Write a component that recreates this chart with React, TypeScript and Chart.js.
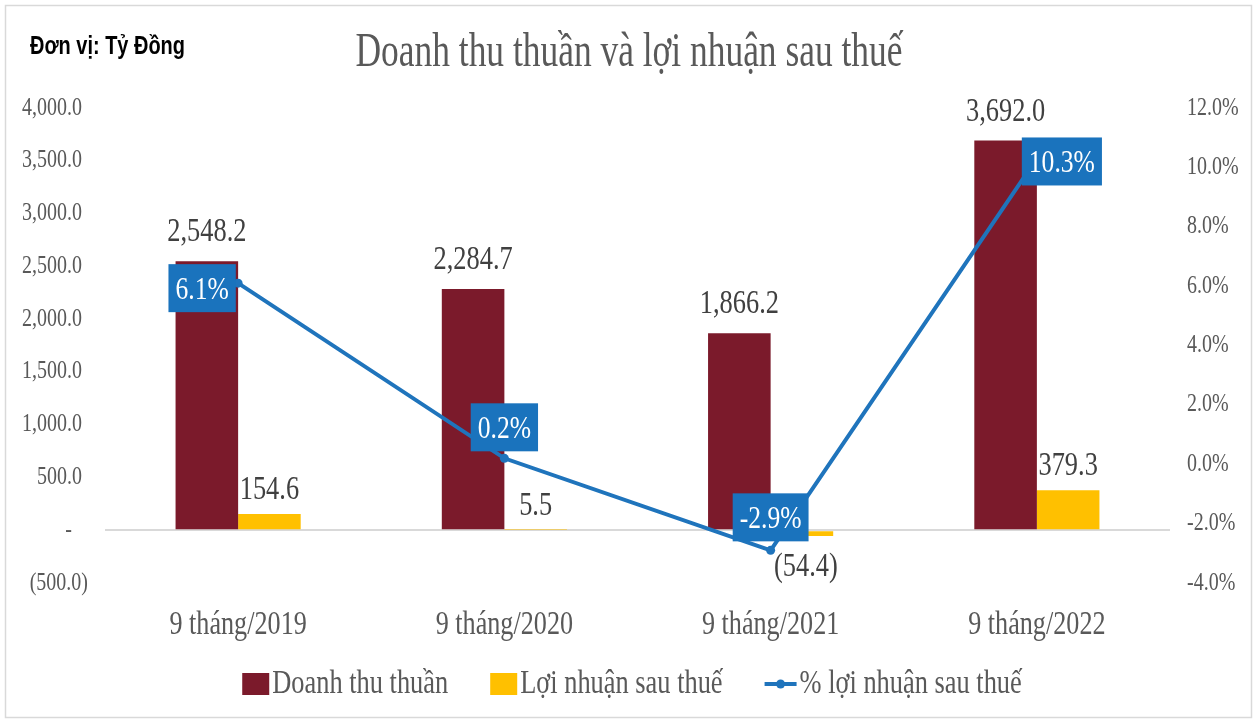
import React, { useEffect, useRef } from "react";
import { Chart, registerables } from "chart.js";
Chart.register(...registerables);

const categories = ["9 tháng/2019", "9 tháng/2020", "9 tháng/2021", "9 tháng/2022"];
const revenue = [2548.2, 2284.7, 1866.2, 3692.0];
const profit = [154.6, 5.5, -54.4, 379.3];
const margin = [6.1, 0.2, -2.9, 10.3];
const leftTicks = [-500, 0, 500, 1000, 1500, 2000, 2500, 3000, 3500, 4000];
const rightTicks = [-4, -2, 0, 2, 4, 6, 8, 10, 12];
const seriesNames = ["Doanh thu thuần", "Lợi nhuận sau thuế", "% lợi nhuận sau thuế"];
const titleText = "Doanh thu thuần và lợi nhuận sau thuế";
const unitText = "Đơn vị: Tỷ Đồng";

const RED = "#7b1a2b";
const YELLOW = "#ffc000";
const BLUE = "#1f74bc";
const GRAY = "#595959";
const DARK = "#404040";
const SERIF = '"Liberation Serif", "Times New Roman", serif';
const SX = 0.8;

// label offsets for percentage boxes (style, not data)
const pctOffsets = [
  [-36, 5],
  [0, -31],
  [0, -33],
  [25, 3],
];

function fmtNum(v: number): string {
  if (v === 0) return "-";
  const s = Math.abs(v).toLocaleString("en-US", { minimumFractionDigits: 1, maximumFractionDigits: 1 });
  return v < 0 ? `(${s})` : s;
}

function drawText(
  ctx: CanvasRenderingContext2D,
  text: string,
  x: number,
  y: number,
  font: string,
  color: string,
  align: "left" | "center" | "right",
  sx: number,
  baseline: CanvasTextBaseline = "middle",
  targetWidth?: number
) {
  ctx.save();
  ctx.font = font;
  const nat = ctx.measureText(text).width;
  const s = targetWidth ? targetWidth / nat : sx;
  const w = nat * s;
  const left = align === "center" ? x - w / 2 : align === "right" ? x - w : x;
  ctx.translate(left, y);
  ctx.scale(s, 1);
  ctx.textAlign = "left";
  ctx.textBaseline = baseline;
  ctx.fillStyle = color;
  ctx.fillText(text, 0, 0);
  ctx.restore();
  return w;
}

const textPlugin = {
  id: "textPlugin",
  afterDatasetsDraw(chart: any) {
    const ctx: CanvasRenderingContext2D = chart.ctx;
    const xs = chart.scales.x;
    const ys = chart.scales.y;
    const y1 = chart.scales.y1;

    // frame
    ctx.save();
    ctx.strokeStyle = "#d9d9d9";
    ctx.lineWidth = 1.5;
    ctx.strokeRect(5.5, 5.5, 1246, 712);
    ctx.restore();

    // title + unit
    drawText(ctx, titleText, 629, 53, `48px ${SERIF}`, GRAY, "center", SX, "middle", 547);
    drawText(ctx, unitText, 30, 47, `bold 25px "Liberation Sans", Arial, sans-serif`, "#000", "left", SX, "middle", 155);

    // left ticks
    leftTicks.forEach((v) => {
      const py = ys.getPixelForValue(v);
      const t = fmtNum(v);
      const rx = v < 0 ? 88 : v === 0 ? 72 : 82;
      drawText(ctx, t, rx, py, `25px ${SERIF}`, GRAY, "right", SX);
    });
    // right ticks
    rightTicks.forEach((v) => {
      const py = y1.getPixelForValue(v);
      drawText(ctx, v.toFixed(1) + "%", 1187, py, `25px ${SERIF}`, GRAY, "left", SX);
    });
    // x labels
    categories.forEach((c, i) => {
      drawText(ctx, c, xs.getPixelForValue(i), 625, `34px ${SERIF}`, GRAY, "center", 0.77);
    });

    // bar labels
    [0, 1].forEach((di) => {
      const meta = chart.getDatasetMeta(di);
      const data = di === 0 ? revenue : profit;
      meta.data.forEach((bar: any, i: number) => {
        const v = data[i];
        if (v >= 0) {
          const gap = di === 0 ? 20 : 15;
          drawText(ctx, fmtNum(v), bar.x, bar.y - gap, `33px ${SERIF}`, DARK, "center", SX, "alphabetic");
        } else {
          drawText(ctx, fmtNum(v), bar.x + 4, bar.y + 40, `33px ${SERIF}`, DARK, "center", SX, "alphabetic");
        }
      });
    });

    // percentage boxes
    const lmeta = chart.getDatasetMeta(2);
    lmeta.data.forEach((pt: any, i: number) => {
      const t = margin[i].toFixed(1) + "%";
      const cx = pt.x + pctOffsets[i][0];
      const cy = pt.y + pctOffsets[i][1];
      ctx.save();
      ctx.font = `32px ${SERIF}`;
      const w = ctx.measureText(t).width * SX + 14;
      ctx.restore();
      const h = 48;
      ctx.save();
      ctx.fillStyle = "#1a73bd";
      ctx.fillRect(cx - w / 2, cy - h / 2, w, h);
      ctx.restore();
      drawText(ctx, t, cx, cy + 2, `32px ${SERIF}`, "#ffffff", "center", SX);
    });

    // legend
    const font = `33px ${SERIF}`;
    ctx.save();
    ctx.font = font;
    const widths = seriesNames.map((n) => ctx.measureText(n).width * SX);
    ctx.restore();
    const markerW = [27, 27, 32];
    const gapMT = 3;
    const gapItems = 42;
    const total = widths.reduce((a, b) => a + b, 0) + markerW.reduce((a, b) => a + b, 0) + gapMT * 3 + gapItems * 2;
    let lx = 632 - total / 2;
    const ly = 684;
    seriesNames.forEach((n, i) => {
      ctx.save();
      if (i < 2) {
        ctx.fillStyle = i === 0 ? RED : YELLOW;
        ctx.fillRect(lx, ly - 11, 27, 22);
      } else {
        ctx.strokeStyle = BLUE;
        ctx.lineWidth = 4;
        ctx.beginPath();
        ctx.moveTo(lx, ly);
        ctx.lineTo(lx + markerW[2], ly);
        ctx.stroke();
        ctx.fillStyle = BLUE;
        ctx.beginPath();
        ctx.arc(lx + markerW[2] / 2, ly, 4.5, 0, Math.PI * 2);
        ctx.fill();
      }
      ctx.restore();
      lx += markerW[i] + gapMT;
      drawText(ctx, n, lx, ly, font, GRAY, "left", SX);
      lx += widths[i] + gapItems;
    });
  },
};

export default function App() {
  const ref = useRef<HTMLCanvasElement | null>(null);
  useEffect(() => {
    document.body.style.margin = "0";
    const canvas = ref.current!;
    const chart = new Chart(canvas, {
      type: "bar",
      data: {
        labels: categories,
        datasets: [
          {
            type: "bar",
            label: seriesNames[0],
            data: revenue,
            backgroundColor: RED,
            yAxisID: "y",
            categoryPercentage: 0.47,
            barPercentage: 1.0,
            order: 2,
          },
          {
            type: "bar",
            label: seriesNames[1],
            data: profit,
            backgroundColor: YELLOW,
            yAxisID: "y",
            categoryPercentage: 0.47,
            barPercentage: 1.0,
            order: 2,
          },
          {
            type: "line",
            label: seriesNames[2],
            data: margin,
            borderColor: BLUE,
            backgroundColor: BLUE,
            borderWidth: 4,
            pointRadius: 4.5,
            pointBackgroundColor: BLUE,
            pointBorderWidth: 0,
            yAxisID: "y1",
            tension: 0,
            order: 1,
          } as any,
        ],
      },
      options: {
        responsive: false,
        animation: false,
        layout: { padding: { left: 105, right: 90, top: 108, bottom: 143 } },
        plugins: {
          legend: { display: false },
          title: { display: false },
          tooltip: { enabled: false },
        },
        scales: {
          x: {
            display: true,
            ticks: { display: false },
            grid: { display: false, drawTicks: false },
            border: { display: false },
          },
          y: {
            display: true,
            min: -500,
            max: 4000,
            ticks: { display: false, stepSize: 500 },
            grid: {
              drawTicks: false,
              color: (c: any) => (c.tick && c.tick.value === 0 ? "#d9d9d9" : "rgba(0,0,0,0)"),
              lineWidth: 2,
            },
            border: { display: false },
          },
          y1: {
            display: true,
            position: "right",
            min: -4,
            max: 12,
            ticks: { display: false, stepSize: 2 },
            grid: { display: false, drawTicks: false },
            border: { display: false },
          },
        },
      },
      plugins: [textPlugin],
    });
    return () => chart.destroy();
  }, []);
  return (
    <div style={{ width: 1260, height: 726, background: "#fff" }}>
      <canvas ref={ref} width={1260} height={726} style={{ display: "block" }} />
    </div>
  );
}
